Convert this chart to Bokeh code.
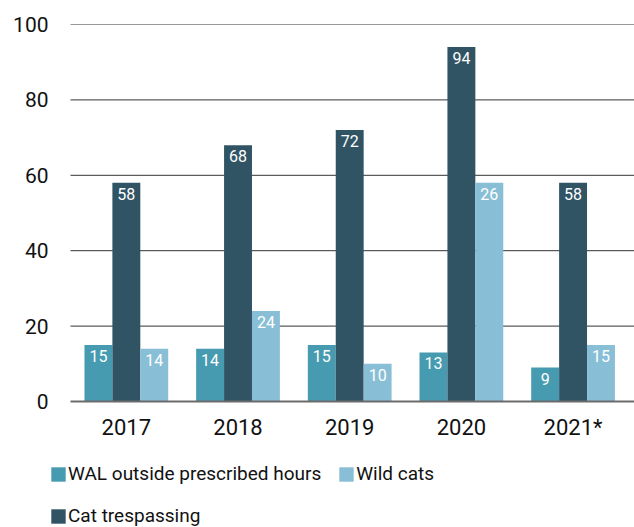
import numpy as np
from bokeh.plotting import figure
from bokeh.layouts import column
from bokeh.models import (ColumnDataSource, Range1d, FixedTicker, Legend, LegendItem)
from bokeh.core.properties import value
from bokeh.embed import file_html
from bokeh.resources import INLINE

years = ["2017", "2018", "2019", "2020", "2021*"]
wal = [15, 14, 15, 13, 9]
cat_trespassing = [58, 68, 72, 94, 58]
wild_cats = [14, 24, 10, 58, 15]          # bar heights as drawn
wild_cats_labels = ["14", "24", "10", "26", "15"]  # labels as printed
y_ticks = [0, 20, 40, 60, 80, 100]

series_names = ["WAL outside prescribed hours", "Cat trespassing", "Wild cats"]
colors = ["#479bb0", "#315464", "#89bfd6"]

FONT = "Roboto"
x = np.arange(len(years))
bw = 0.25

# layout geometry (pixels)
W = 634
FRAME_LEFT = 49          # frame starts where the legend swatches start
AXIS_LEFT = 70           # where gridlines / baseline start
x_end = 4.55
x_axis_start = -0.5
px_per_unit = (W - AXIS_LEFT) / (x_end - x_axis_start)
x_start = x_axis_start - (AXIS_LEFT - FRAME_LEFT) / px_per_unit

p = figure(width=W, height=446, output_backend="svg", toolbar_location=None,
           x_range=Range1d(x_start, x_end), y_range=Range1d(0, 100),
           min_border_left=FRAME_LEFT, min_border_right=0, min_border_top=24,
           min_border_bottom=45, outline_line_color=None)

# horizontal gridlines, limited to the plotting area
grid_y = y_ticks[1:]
p.segment(x0=[x_axis_start] * len(grid_y), x1=[x_end] * len(grid_y),
          y0=grid_y, y1=grid_y, line_color="#333333", line_width=1)

series = [
    (wal, [str(v) for v in wal], -bw),
    (cat_trespassing, [str(v) for v in cat_trespassing], 0.0),
    (wild_cats, wild_cats_labels, bw),
]
for (vals, labs, off), col in zip(series, colors):
    src = ColumnDataSource(dict(x=x + off, top=vals, lab=labs))
    p.vbar(x="x", top="top", bottom=0, width=bw, source=src,
           fill_color=col, line_color=None)
    p.text(x="x", y="top", text="lab", source=src, text_color="white",
           text_font=value(FONT), text_font_size="16px",
           text_align="center", text_baseline="top", y_offset=5)

# axes
p.xaxis.ticker = FixedTicker(ticks=list(x))
p.xaxis.major_label_overrides = {int(i): y for i, y in zip(x, years)}
p.xaxis.bounds = (x_axis_start, x_end)
p.xaxis.axis_line_color = "#6b6b6b"
p.xaxis.axis_line_width = 2
p.xaxis.major_tick_line_color = None
p.xaxis.minor_tick_line_color = None
p.xaxis.major_label_text_font = FONT
p.xaxis.major_label_text_font_size = "22px"
p.xaxis.major_label_text_color = "#111111"
p.xaxis.major_label_standoff = 7

p.yaxis.ticker = FixedTicker(ticks=y_ticks)
p.yaxis.axis_line_color = None
p.yaxis.major_tick_line_color = None
p.yaxis.minor_tick_line_color = None
p.yaxis.major_label_text_font = FONT
p.yaxis.major_label_text_font_size = "21px"
p.yaxis.major_label_text_color = "#111111"
p.yaxis.major_label_standoff = -5

p.xgrid.grid_line_color = None
p.ygrid.grid_line_color = None

# legend strip below the chart
lf = figure(width=W, height=81, output_backend="svg", toolbar_location=None,
            x_axis_location=None, y_axis_location=None,
            x_range=Range1d(0, 1), y_range=Range1d(0, 1),
            min_border=0, min_border_left=FRAME_LEFT, outline_line_color=None)
lf.xgrid.grid_line_color = None
lf.ygrid.grid_line_color = None
swatches = {}
for name, col in zip(series_names, colors):
    # swatch renderers sit outside the visible range; only their legend glyphs show
    swatches[name] = lf.vbar(x=[10], top=[10], bottom=[9], width=0.1,
                             fill_color=col, line_color=None)


def make_legend(names, loc):
    lg = Legend(items=[LegendItem(label=n, renderers=[swatches[n]]) for n in names],
                orientation="horizontal", location=loc)
    lg.glyph_width = 18
    lg.glyph_height = 18
    lg.label_text_font = FONT
    lg.label_text_font_size = "19px"
    lg.label_text_color = "#111111"
    lg.label_standoff = 1
    lg.spacing = 16
    lg.padding = 0
    lg.margin = 0
    lg.border_line_color = None
    lg.background_fill_alpha = 0
    return lg


lf.add_layout(make_legend([series_names[0], series_names[2]], (0, 42)), "center")
lf.add_layout(make_legend([series_names[1]], (0, 0)), "center")

layout = column(p, lf, spacing=0)
open("out.html", "w").write(file_html(layout, INLINE))
